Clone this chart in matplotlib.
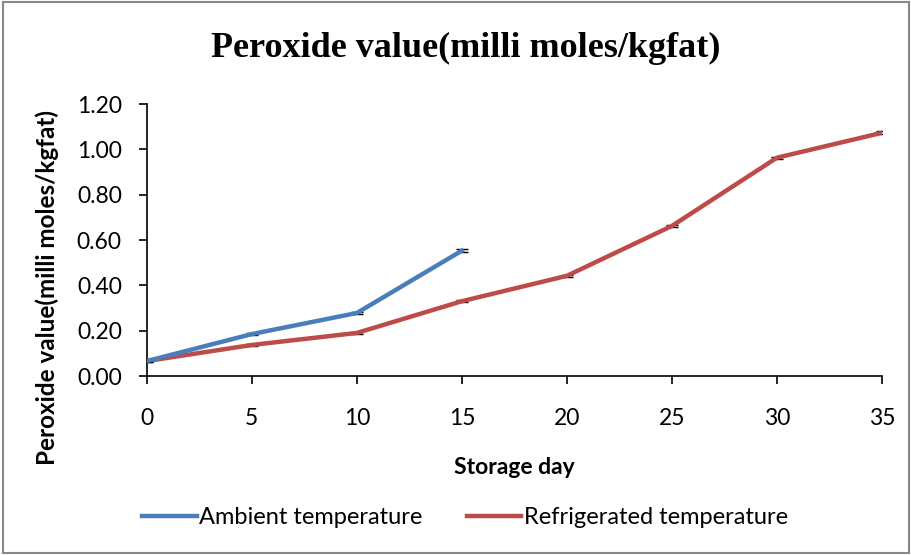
import matplotlib.pyplot as plt
from matplotlib.patches import Rectangle

# Storage days and peroxide values
days_ambient = [0, 5, 10, 15]
pv_ambient = [0.066, 0.185, 0.278, 0.553]
err_ambient = [0.005, 0.004, 0.005, 0.006]

days_fridge = [0, 5, 10, 15, 20, 25, 30, 35]
pv_fridge = [0.066, 0.137, 0.190, 0.330, 0.442, 0.662, 0.963, 1.073]
err_fridge = [0.005, 0.004, 0.004, 0.005, 0.004, 0.005, 0.005, 0.006]

ticks_x = [0, 5, 10, 15, 20, 25, 30, 35]
ticks_y = [0.0, 0.2, 0.4, 0.6, 0.8, 1.0, 1.2]

plt.rcParams['font.family'] = ['Lato', 'DejaVu Sans']

fig = plt.figure(figsize=(9.12, 5.55), dpi=100)
ax = fig.add_axes([0.161, 0.3225, 0.806, 0.4901])

ax.errorbar(days_ambient, pv_ambient, yerr=err_ambient, color='#4A7EBB', linewidth=3.2,
            ecolor='black', elinewidth=1, capsize=4, label='Ambient temperature', zorder=3)
ax.errorbar(days_fridge, pv_fridge, yerr=err_fridge, color='#BE4B48', linewidth=3.2,
            ecolor='black', elinewidth=1, capsize=4, label='Refrigerated temperature', zorder=2)

ax.set_xlim(0, 35)
ax.set_ylim(0, 1.2)
ax.set_xticks(ticks_x)
ax.set_yticks(ticks_y)
ax.set_yticklabels(['%.2f' % v for v in ticks_y])
ax.tick_params(axis='both', labelsize=16.5, direction='out', length=6, width=1.2, colors='black')
ax.tick_params(axis='x', pad=17)
ax.tick_params(axis='y', pad=12)
ax.spines['top'].set_visible(False)
ax.spines['right'].set_visible(False)
ax.spines['left'].set_linewidth(1.2)
ax.spines['bottom'].set_linewidth(1.2)
ax.margins(0)
for ln in ax.get_xticklines() + ax.get_yticklines():
    ln.set_clip_on(False)

ax.set_xlabel('Storage day', fontsize=16.5, fontweight='bold', labelpad=20)
ax.set_ylabel('Peroxide value(milli moles/kgfat)', fontsize=17.5, fontweight='bold')
# Excel puts the y label lower than the axes centre
ax.yaxis.set_label_coords(-0.12, 0.327)

fig.text(0.511, 0.913, 'Peroxide value(milli moles/kgfat)', fontsize=26, fontweight='bold',
         family='Liberation Serif', ha='center', va='center')

handles, labels = ax.get_legend_handles_labels()
handles = [h[0] for h in handles]
fig.legend(handles, labels, loc='center', bbox_to_anchor=(0.51, 0.067), ncol=2, frameon=False,
           fontsize=17, handlelength=2.3, handletextpad=0.1, columnspacing=1.9)

fig.patches.append(Rectangle((0.003, 0.003), 0.994, 0.994, transform=fig.transFigure,
                             fill=False, edgecolor='#888888', linewidth=1.5))

plt.savefig('out.png', dpi=100)
